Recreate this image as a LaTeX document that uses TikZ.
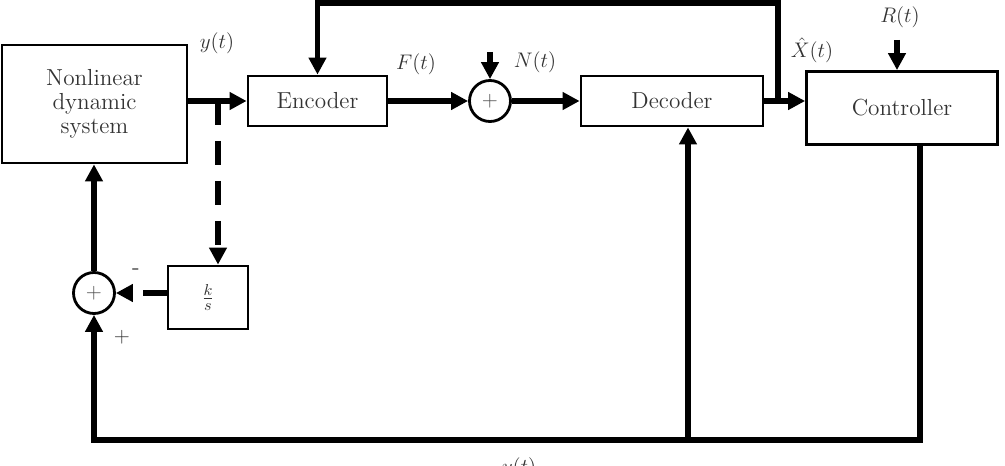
\documentclass[tikz,border=0pt]{standalone}
\usepackage{amssymb}
\usetikzlibrary{shapes,arrows.meta,positioning,calc}

\tikzset{
	blk/.style={draw, line width=1.6pt, align=center, inner sep=0pt,
		font=\fontsize{13.2}{13.5}\selectfont, text=black!80},
	sumnode/.style={draw, circle, line width=1.6pt, minimum size=0.82cm,
		inner sep=0pt, font=\fontsize{13.2}{14}\selectfont, text=black!70},
	sig/.style={line width=3.2pt, -{Triangle[length=0.34cm,width=0.34cm]}},
	dsig/.style={sig, dash pattern=on 0.48cm off 0.32cm},
	lbl/.style={font=\fontsize{13.2}{14}\selectfont, text=black!80, inner sep=0pt},
}

\begin{document}
\begin{tikzpicture}[
				x=0.02cm, y=-0.02cm,
			]
			\useasboundingbox (0,0) rectangle (1005,466);

			% blocks
			\node[blk, minimum width=3.7cm, minimum height=2.36cm] (sys) at (94.5,104) {Nonlinear\\dynamic\\system};
			\node[blk, minimum width=2.78cm, minimum height=1cm] (enc) at (317.5,101) {Encoder};
			\node[sumnode] (sumn) at (490,101) {$+$};
			\node[blk, minimum width=3.64cm, minimum height=1cm] (dec) at (672,101) {Decoder};
			\node[blk, minimum width=3.82cm, minimum height=1.46cm] (ctrl) at (902,108) {Controller};
			\node[sumnode] (sumk) at (94,293) {$+$};
			\node[blk, minimum width=1.6cm, minimum height=1.26cm] (gain) at (208,297.5) {$\frac{k}{s}$};

			% branch points and free ends
			\coordinate (ybr) at (218,101);
			\coordinate (xbr) at (778,101);
			\coordinate (cbot) at (920,440);
			\coordinate (dbr) at (688,440);
			\coordinate (lbot) at (94,440);
			\coordinate (ntop) at (490,52);
			\coordinate (rtop) at (897,40);

			% forward path
			\draw[sig] (sys.east |- enc.west) -- (enc.west);
			\draw[sig] (enc.east) -- (sumn.west);
			\draw[sig] (ntop) -- (sumn.north);
			\draw[sig] (sumn.east) -- (dec.west);
			\draw[sig] (dec.east) -- (ctrl.west |- dec.east);
			\draw[sig] (rtop) -- (rtop |- ctrl.north);

			% feedback paths
			\draw[sig] (xbr) -- ++(0,-98) -| (enc.north);
			\draw[sig] (ctrl.south -| cbot) -- (cbot) -- (lbot) -- (sumk.south);
			\draw[sig] (dbr) -- (dbr |- dec.south);
			\draw[sig] (sumk.north) -- (sumk.north |- sys.south);
			\draw[dsig] (ybr) -- (ybr |- gain.north);
			\draw[dsig] (gain.west |- sumk) -- (sumk.east);

			% signal labels
			\node[lbl] (ylab) at (217,43) {$y(t)$};
			\node[lbl] (flab) at (416,64) {$F(t)$};
			\node[lbl] (nlab) at (535,62) {$N(t)$};
			\node[lbl] (xlab) at (812,50) {$\hat{X}(t)$};
			\node[lbl] (rlab) at (900,17) {$R(t)$};
			\node[lbl] (mlab) at (136,272) {-};
			\node[lbl] (plab) at (122,337) {$+$};
			\node[lbl] (ybot) at (519,468) {$y(t)$};

		\end{tikzpicture}
\end{document}
